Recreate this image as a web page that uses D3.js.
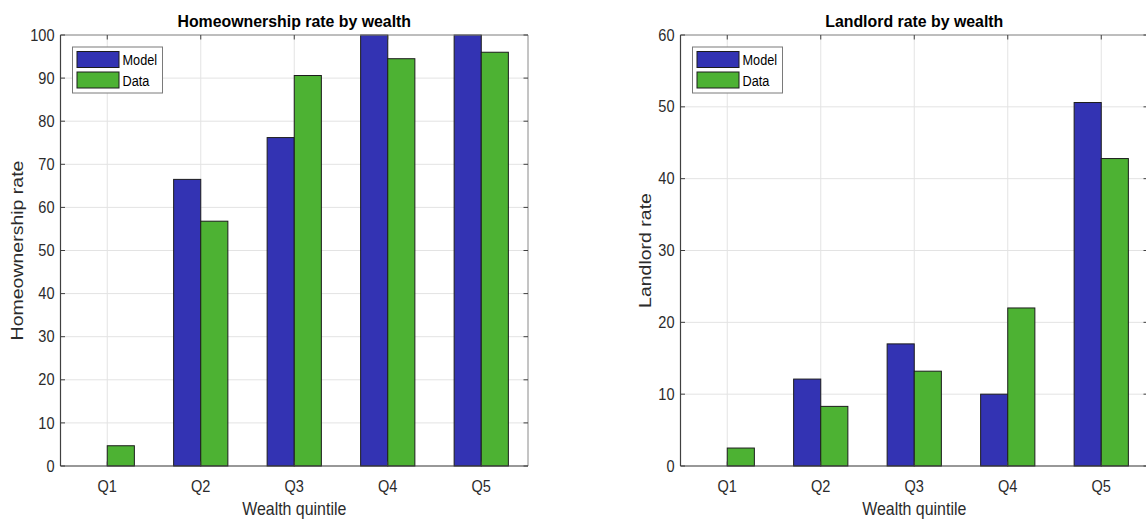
<!DOCTYPE html>
<html>
<head>
<meta charset="utf-8">
<script src="https://cdn.jsdelivr.net/npm/d3@7"></script>
<style>
  html, body { margin: 0; padding: 0; background: #fff; }
  svg { display: block; }
  text { font-family: "Liberation Sans", Arial, Helvetica, sans-serif; }
</style>
</head>
<body>
<div id="chart"></div>
<script>
// Wealth quintiles and the two series shown in each panel
const categories = ["Q1", "Q2", "Q3", "Q4", "Q5"];
const seriesNames = ["Model", "Data"];
const ownershipModel = [0, 66.5, 76.2, 100, 100];
const ownershipData  = [4.7, 56.8, 90.6, 94.5, 96.0];
const landlordModel  = [0, 12.1, 17.0, 10.0, 50.6];
const landlordData   = [2.5, 8.3, 13.2, 22.0, 42.8];
const ownershipTicks = [0, 10, 20, 30, 40, 50, 60, 70, 80, 90, 100];
const landlordTicks  = [0, 10, 20, 30, 40, 50, 60];

const W = 1146, H = 521;
const colors = ["#3333b3", "#4db233"];
const axisColor = "#404040";
const gridColor = "#e3e3e3";
const textColor = "#2b2b2b";

const svg = d3.select("#chart").append("svg")
  .attr("width", W).attr("height", H);

// Text with a slight squeeze along the screen's horizontal direction
function label(g, x, y, str, opt = {}) {
  const sx = opt.sx ?? 0.91;
  const sy = opt.sy ?? 1;
  return g.append("text")
    .attr("transform", `translate(${x},${y}) rotate(${opt.rotate || 0}) scale(${sx},${sy})`)
    .attr("text-anchor", opt.anchor || "middle")
    .attr("dy", opt.dy ?? "0.35em")
    .attr("font-size", opt.size || 16)
    .attr("font-weight", opt.weight || "normal")
    .attr("fill", opt.fill || textColor)
    .text(str);
}

function panel(cfg) {
  const g = svg.append("g");
  const x = d3.scaleLinear().domain([0.5, categories.length + 0.5]).range([cfg.x0, cfg.x1]);
  const y = d3.scaleLinear().domain([0, cfg.ymax]).range([cfg.y1, cfg.y0]);
  const barW = 0.29;
  const offsets = [-barW / 2, barW / 2];

  // Grid
  g.selectAll(".gy").data(cfg.ticks).enter().append("line")
    .attr("x1", cfg.x0).attr("x2", cfg.x1)
    .attr("y1", d => y(d)).attr("y2", d => y(d))
    .attr("stroke", gridColor).attr("stroke-width", 1);
  g.selectAll(".gx").data(categories).enter().append("line")
    .attr("x1", (d, i) => x(i + 1)).attr("x2", (d, i) => x(i + 1))
    .attr("y1", cfg.y0).attr("y2", cfg.y1)
    .attr("stroke", gridColor).attr("stroke-width", 1);

  // Bars (zero values are not drawn)
  [cfg.model, cfg.data].forEach((vals, s) => {
    const rows = vals.map((v, i) => ({ v, i })).filter(d => d.v > 0);
    g.selectAll(null).data(rows).enter().append("rect")
      .attr("x", d => x(d.i + 1 + offsets[s] - barW / 2))
      .attr("y", d => y(d.v))
      .attr("width", x(barW) - x(0))
      .attr("height", d => y(0) - y(d.v))
      .attr("fill", colors[s])
      .attr("stroke", "#1c1c1c").attr("stroke-width", 1);
  });

  // Axes box
  g.append("line").attr("x1", cfg.x0).attr("x2", cfg.x1).attr("y1", cfg.y0).attr("y2", cfg.y0)
    .attr("stroke", "#8a8a8a").attr("stroke-width", 1);
  g.append("line").attr("x1", cfg.x1).attr("x2", cfg.x1).attr("y1", cfg.y0).attr("y2", cfg.y1)
    .attr("stroke", "#8a8a8a").attr("stroke-width", 1);
  g.append("line").attr("x1", cfg.x0).attr("x2", cfg.x0).attr("y1", cfg.y0).attr("y2", cfg.y1)
    .attr("stroke", axisColor).attr("stroke-width", 1.2);
  g.append("line").attr("x1", cfg.x0).attr("x2", cfg.x1).attr("y1", cfg.y1).attr("y2", cfg.y1)
    .attr("stroke", axisColor).attr("stroke-width", 1.2);

  // Inward ticks and tick labels
  const tl = 4.5;
  cfg.ticks.forEach(t => {
    g.append("line").attr("x1", cfg.x0).attr("x2", cfg.x0 + tl).attr("y1", y(t)).attr("y2", y(t))
      .attr("stroke", axisColor);
    g.append("line").attr("x1", cfg.x1).attr("x2", cfg.x1 - tl).attr("y1", y(t)).attr("y2", y(t))
      .attr("stroke", axisColor);
    label(g, cfg.x0 - 6, y(t), String(t), { anchor: "end" });
  });
  categories.forEach((c, i) => {
    g.append("line").attr("x1", x(i + 1)).attr("x2", x(i + 1)).attr("y1", cfg.y1).attr("y2", cfg.y1 - tl)
      .attr("stroke", axisColor);
    g.append("line").attr("x1", x(i + 1)).attr("x2", x(i + 1)).attr("y1", cfg.y0).attr("y2", cfg.y0 + tl)
      .attr("stroke", axisColor);
    label(g, x(i + 1), cfg.y1 + 20, c);
  });

  // Titles and axis labels
  const cx = (cfg.x0 + cfg.x1) / 2;
  label(g, cx, 21, cfg.title, { size: 16.8, weight: "bold", fill: "#000", sx: 0.945 });
  label(g, cx, 509, "Wealth quintile", { size: 17.5 });
  label(g, cfg.ylabX, (cfg.y0 + cfg.y1) / 2, cfg.ylabel, { size: 19.5, rotate: -90, sx: 1, sy: 0.88 });

  // Legend
  const lx = cfg.x0 + 12, ly = cfg.y0 + 12;
  const lg = g.append("g");
  lg.append("rect").attr("x", lx).attr("y", ly).attr("width", 90).attr("height", 46)
    .attr("fill", "#fff").attr("stroke", "#7a7a7a").attr("stroke-width", 1);
  seriesNames.forEach((n, i) => {
    lg.append("rect").attr("x", lx + 4.5).attr("y", ly + 4.5 + i * 20.5).attr("width", 42).attr("height", 16)
      .attr("fill", colors[i]).attr("stroke", "#1c1c1c");
    label(lg, lx + 50, ly + 13 + i * 20.5, n, { anchor: "start", size: 15.5, sx: 0.82, fill: "#000" });
  });
}

panel({
  x0: 60.5, x1: 528, y0: 35, y1: 466, ymax: 100, ticks: ownershipTicks,
  model: ownershipModel, data: ownershipData,
  title: "Homeownership rate by wealth", ylabel: "Homeownership rate", ylabX: 17
});
panel({
  x0: 680.5, x1: 1148, y0: 35, y1: 466, ymax: 60, ticks: landlordTicks,
  model: landlordModel, data: landlordData,
  title: "Landlord rate by wealth", ylabel: "Landlord rate", ylabX: 645
});
</script>
</body>
</html>
